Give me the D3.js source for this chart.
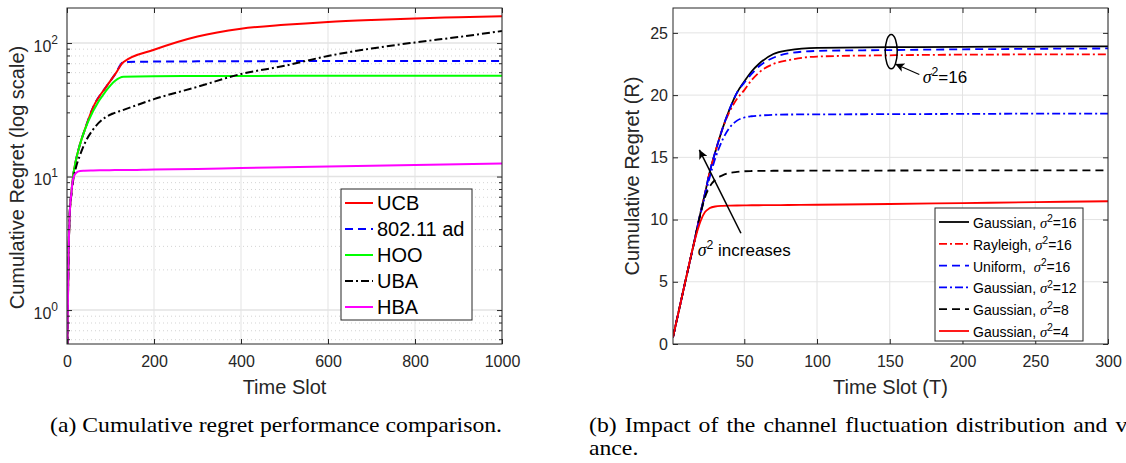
<!DOCTYPE html>
<html>
<head>
<meta charset="utf-8">
<script src="https://cdn.jsdelivr.net/npm/d3@7"></script>
<style>
  body { margin: 0; background: #fff; }
  svg text { font-family: "Liberation Sans", Arial, sans-serif; }
</style>
</head>
<body>
<svg id="fig" width="1126" height="463"></svg>
<script>
// ---- panel (a): cumulative regret, log scale ----
const tA = [1, 3, 6, 10, 14, 20, 30, 40, 60, 90, 110, 130, 200, 300, 400, 500, 600, 700, 800, 900, 1000];
const ucb = [0.55, 2, 5, 7.5, 10, 13, 17.5, 22, 33, 47, 58, 72, 89, 112, 128, 137, 144, 149, 153, 156, 159];
const ad  = [0.55, 2, 5, 7.5, 10, 13, 17.5, 22, 33, 47, 58, 72, 72.6, 72.9, 73.1, 73.2, 73.3, 73.4, 73.4, 73.5, 73.5];
const hoo = [0.55, 2, 5, 7.5, 10, 13, 17.5, 22, 31, 44, 52, 56, 56.5, 56.6, 56.7, 56.8, 56.8, 56.9, 56.9, 57, 57];
const uba = [0.55, 2, 5, 7.3, 9.3, 11.5, 14.5, 17.5, 22.5, 28, 30, 31.6, 38, 47, 58.6, 67.5, 80, 91, 101, 111, 123];
const hba = [0.55, 2, 5, 7.5, 9.6, 10.6, 11.0, 11.05, 11.1, 11.15, 11.2, 11.2, 11.3, 11.4, 11.6, 11.75, 11.9, 12.05, 12.2, 12.35, 12.5];
const xTicksA = [0, 200, 400, 600, 800, 1000];
const yTicksA = [1, 10, 100];

// ---- panel (b): channel fluctuation ----
const tB  = [1, 10, 15, 20, 23, 26, 30, 35, 40, 45, 50, 55, 60, 70, 80, 100, 150, 200, 250, 300];
const g16 = [0.55, 5.3, 7.9, 10.6, 12.1, 13.7, 15.4, 17.3, 18.9, 20.2, 21.1, 21.9, 22.5, 23.3, 23.6, 23.8, 23.85, 23.88, 23.9, 23.92];
const r16 = [0.55, 5.3, 7.9, 10.6, 12.1, 13.7, 15.4, 17.3, 18.7, 19.7, 20.4, 21.2, 21.8, 22.5, 22.8, 23.1, 23.2, 23.25, 23.27, 23.28];
const u16 = [0.55, 5.3, 7.9, 10.6, 12.1, 13.7, 15.4, 17.3, 18.9, 20.2, 21.0, 21.7, 22.3, 23.0, 23.35, 23.55, 23.62, 23.68, 23.72, 23.75];
const g12 = [0.55, 5.3, 7.9, 10.5, 11.9, 13.3, 14.9, 16.4, 17.4, 17.95, 18.2, 18.3, 18.35, 18.42, 18.44, 18.45, 18.47, 18.49, 18.51, 18.52];
const g8  = [0.55, 5.3, 7.9, 10.5, 11.8, 12.6, 13.2, 13.55, 13.75, 13.83, 13.88, 13.9, 13.91, 13.92, 13.92, 13.93, 13.94, 13.95, 13.95, 13.96];
const g4  = [0.55, 5.3, 7.9, 9.9, 10.6, 10.9, 11.05, 11.1, 11.12, 11.13, 11.14, 11.15, 11.15, 11.16, 11.17, 11.19, 11.25, 11.32, 11.4, 11.47];
const xTicksB = [50, 100, 150, 200, 250, 300];
const yTicksB = [0, 5, 10, 15, 20, 25];

const axisColor = "#262626";
const gridColor = "#e3e3e3";

const svg = d3.select("#fig");
svg.append("rect").attr("width", 1126).attr("height", 463).attr("fill", "#fff");

const defs = svg.append("defs");
defs.append("marker")
    .attr("id", "arrow")
    .attr("viewBox", "0 0 10 10")
    .attr("markerUnits", "userSpaceOnUse")
    .attr("markerWidth", 11)
    .attr("markerHeight", 9)
    .attr("refX", 10)
    .attr("refY", 5)
    .attr("orient", "auto")
    .append("path")
    .attr("d", "M0,0 L10,5 L0,10 L2.5,5 Z")
    .attr("fill", "#000");

function clipFor(id, box) {
    defs.append("clipPath").attr("id", id)
        .append("rect")
        .attr("x", box.left).attr("y", box.top)
        .attr("width", box.right - box.left)
        .attr("height", box.bottom - box.top);
}

// sigma^2 text helper
function sigmaText(sel, before, after, fs) {
    sel.append("tspan").text(before);
    sel.append("tspan").text("σ")
        .style("font-family", "'Liberation Serif', serif")
        .style("font-style", "italic")
        .style("font-size", (fs * 1.05) + "px");
    sel.append("tspan").text("2")
        .attr("dy", -fs * 0.42)
        .style("font-size", (fs * 0.72) + "px");
    sel.append("tspan").text(after)
        .attr("dy", fs * 0.42);
}

// ================= panel (a) =================
const boxA = {left: 67, right: 502, top: 8, bottom: 344};
const xA = d3.scaleLinear().domain([0, 1000]).range([boxA.left, boxA.right]);
const yA = d3.scaleLog().domain([0.557, 183]).range([boxA.bottom, boxA.top]);
clipFor("clipA", boxA);

const gA = svg.append("g");

let minorA = [];
[0.1, 1, 10, 100].forEach(d => {
    for (let k = 2; k <= 9; k++) {
        let v = d * k;
        if (v > 0.557 && v < 183) minorA.push(v);
    }
});

// grid
gA.selectAll(".minor").data(minorA).join("line")
    .attr("x1", boxA.left).attr("x2", boxA.right)
    .attr("y1", d => yA(d)).attr("y2", d => yA(d))
    .attr("stroke", "#c8c8c8").attr("stroke-width", 0.8)
    .attr("stroke-dasharray", "1,3");
gA.selectAll(".gy").data(yTicksA).join("line")
    .attr("x1", boxA.left).attr("x2", boxA.right)
    .attr("y1", d => yA(d)).attr("y2", d => yA(d))
    .attr("stroke", gridColor).attr("stroke-width", 1.5);
gA.selectAll(".gx").data(xTicksA).join("line")
    .attr("x1", d => xA(d)).attr("x2", d => xA(d))
    .attr("y1", boxA.top).attr("y2", boxA.bottom)
    .attr("stroke", gridColor).attr("stroke-width", 1);

const seriesA = [
    {name: "UCB", values: ucb, color: "#ff0000", dash: null},
    {name: "802.11 ad", values: ad, color: "#0000ff", dash: "8,5"},
    {name: "HOO", values: hoo, color: "#00ff00", dash: null},
    {name: "UBA", values: uba, color: "#000000", dash: "8,3,2,3"},
    {name: "HBA", values: hba, color: "#ff00ff", dash: null}
];

const lineA = d3.line()
    .x((d, i) => xA(tA[i]))
    .y(d => yA(d))
    .curve(d3.curveMonotoneX);

// draw order: put red over blue for the shared part like the original
const drawOrderA = [1, 0, 2, 3, 4];
drawOrderA.forEach(i => {
    const s = seriesA[i];
    gA.append("path")
        .datum(s.values)
        .attr("clip-path", "url(#clipA)")
        .attr("fill", "none")
        .attr("stroke", s.color)
        .attr("stroke-width", 2)
        .attr("stroke-dasharray", s.dash)
        .attr("d", lineA);
});

// axes
gA.append("g")
    .attr("transform", `translate(0,${boxA.bottom})`)
    .call(d3.axisBottom(xA).tickValues(xTicksA).tickSize(-5).tickPadding(12).tickFormat(d3.format("d")));
gA.append("g")
    .attr("transform", `translate(0,${boxA.top})`)
    .call(d3.axisTop(xA).tickValues(xTicksA).tickSize(-5).tickFormat(""));
const axLA = gA.append("g")
    .attr("transform", `translate(${boxA.left},0)`)
    .call(d3.axisLeft(yA).tickValues(yTicksA).tickSize(-5).tickPadding(9).tickFormat(""));
gA.append("g")
    .attr("transform", `translate(${boxA.right},0)`)
    .call(d3.axisRight(yA).tickValues(yTicksA).tickSize(-5).tickFormat(""));
// minor ticks
gA.selectAll(".mtl").data(minorA).join("line")
    .attr("x1", boxA.left).attr("x2", boxA.left + 3)
    .attr("y1", d => yA(d)).attr("y2", d => yA(d))
    .attr("stroke", axisColor);
gA.selectAll(".mtr").data(minorA).join("line")
    .attr("x1", boxA.right).attr("x2", boxA.right - 3)
    .attr("y1", d => yA(d)).attr("y2", d => yA(d))
    .attr("stroke", axisColor);

// y tick labels 10^n
axLA.selectAll(".tick text").each(function(d) {
    const t = d3.select(this).text(null).attr("dy", null).attr("y", 8);
    t.append("tspan").text("10");
    t.append("tspan").text(Math.round(Math.log10(d)))
        .attr("dy", -8).style("font-size", "12px");
});

// ================= panel (b) =================
const boxB = {left: 673, right: 1108, top: 8, bottom: 344};
const xB = d3.scaleLinear().domain([1, 300]).range([boxB.left, boxB.right]);
const yB = d3.scaleLinear().domain([0, 27]).range([boxB.bottom, boxB.top]);
clipFor("clipB", boxB);

const gB = svg.append("g");
gB.selectAll(".gy").data(yTicksB.slice(1)).join("line")
    .attr("x1", boxB.left).attr("x2", boxB.right)
    .attr("y1", d => yB(d)).attr("y2", d => yB(d))
    .attr("stroke", gridColor).attr("stroke-width", 1);
gB.selectAll(".gx").data(xTicksB).join("line")
    .attr("x1", d => xB(d)).attr("x2", d => xB(d))
    .attr("y1", boxB.top).attr("y2", boxB.bottom)
    .attr("stroke", gridColor).attr("stroke-width", 1);

const seriesB = [
    {pre: "Gaussian, ", post: "=16", values: g16, color: "#000000", dash: null},
    {pre: "Rayleigh, ", post: "=16", values: r16, color: "#ff0000", dash: "8,3,2,3"},
    {pre: "Uniform,  ", post: "=16", values: u16, color: "#0000ff", dash: "8,5"},
    {pre: "Gaussian, ", post: "=12", values: g12, color: "#0000ff", dash: "8,3,2,3"},
    {pre: "Gaussian, ", post: "=8", values: g8, color: "#000000", dash: "8,5"},
    {pre: "Gaussian, ", post: "=4", values: g4, color: "#ff0000", dash: null}
];

const lineB = d3.line()
    .x((d, i) => xB(tB[i]))
    .y(d => yB(d))
    .curve(d3.curveMonotoneX);

seriesB.forEach(s => {
    gB.append("path")
        .datum(s.values)
        .attr("clip-path", "url(#clipB)")
        .attr("fill", "none")
        .attr("stroke", s.color)
        .attr("stroke-width", 1.8)
        .attr("stroke-dasharray", s.dash)
        .attr("d", lineB);
});

gB.append("g")
    .attr("transform", `translate(0,${boxB.bottom})`)
    .call(d3.axisBottom(xB).tickValues(xTicksB).tickSize(-5).tickPadding(12));
gB.append("g")
    .attr("transform", `translate(0,${boxB.top})`)
    .call(d3.axisTop(xB).tickValues(xTicksB).tickSize(-5).tickFormat(""));
gB.append("g")
    .attr("transform", `translate(${boxB.left},0)`)
    .call(d3.axisLeft(yB).tickValues(yTicksB).tickSize(-5).tickPadding(5));
gB.append("g")
    .attr("transform", `translate(${boxB.right},0)`)
    .call(d3.axisRight(yB).tickValues(yTicksB).tickSize(-5).tickFormat(""));

// annotations in panel (b)
const ell = {t: 151, v: 23.5, dv: 1.38};
gB.append("ellipse")
    .attr("cx", xB(ell.t)).attr("cy", yB(ell.v))
    .attr("rx", 6).attr("ry", yB(ell.v - ell.dv) - yB(ell.v))
    .attr("fill", "none").attr("stroke", "#000").attr("stroke-width", 1.5);
gB.append("line")
    .attr("x1", xB(170.3)).attr("y1", yB(21.66))
    .attr("x2", xB(153.8)).attr("y2", yB(22.5))
    .attr("stroke", "#000").attr("stroke-width", 1.2)
    .attr("marker-end", "url(#arrow)");
gB.append("text")
    .attr("x", xB(172.6)).attr("y", yB(21.0))
    .style("font-size", "17px").attr("fill", "#000")
    .call(sigmaText, "", "=16", 17);

gB.append("line")
    .attr("x1", xB(47.7)).attr("y1", yB(8.9))
    .attr("x2", xB(19.1)).attr("y2", yB(15.6))
    .attr("stroke", "#000").attr("stroke-width", 1.5)
    .attr("marker-end", "url(#arrow)");
gB.append("text")
    .attr("x", xB(18)).attr("y", yB(7.1))
    .style("font-size", "17px").attr("fill", "#000")
    .call(sigmaText, "", " increases", 17);

// ---- common axis styling ----
svg.selectAll(".domain").remove();
svg.selectAll(".tick line").attr("stroke", axisColor);
svg.selectAll(".tick text")
    .attr("fill", axisColor)
    .style("font-size", "16px")
    .style("font-family", "'Liberation Sans', Arial, sans-serif");

[boxA, boxB].forEach(b => {
    svg.append("rect")
        .attr("x", b.left).attr("y", b.top)
        .attr("width", b.right - b.left).attr("height", b.bottom - b.top)
        .attr("fill", "none").attr("stroke", axisColor).attr("stroke-width", 1);
});

// axis titles
svg.append("text").attr("x", (boxA.left + boxA.right) / 2).attr("y", 394)
    .attr("text-anchor", "middle").style("font-size", "20px").attr("fill", axisColor)
    .text("Time Slot");
svg.append("text").attr("transform", "translate(24,177.5) rotate(-90)")
    .attr("text-anchor", "middle").style("font-size", "20px").attr("fill", axisColor)
    .text("Cumulative Regret (log scale)");
svg.append("text").attr("x", (boxB.left + boxB.right) / 2).attr("y", 394)
    .attr("text-anchor", "middle").style("font-size", "20px").attr("fill", axisColor)
    .text("Time Slot (T)");
svg.append("text").attr("transform", "translate(639,176) rotate(-90)")
    .attr("text-anchor", "middle").style("font-size", "20px").attr("fill", axisColor)
    .text("Cumulative Regret (R)");

// ---- legend (a) ----
const legA = svg.append("g");
legA.append("rect").attr("x", 341).attr("y", 189).attr("width", 131).attr("height", 131)
    .attr("fill", "#fff").attr("stroke", axisColor).attr("stroke-width", 1);
seriesA.forEach((s, i) => {
    const y = 203 + i * 26;
    legA.append("line").attr("x1", 345).attr("x2", 373).attr("y1", y).attr("y2", y)
        .attr("stroke", s.color).attr("stroke-width", 2).attr("stroke-dasharray", s.dash);
    legA.append("text").attr("x", 377).attr("y", y + 7)
        .style("font-size", "20px").attr("fill", "#000").text(s.name);
});

// ---- legend (b) ----
const legB = svg.append("g");
legB.append("rect").attr("x", 935).attr("y", 208).attr("width", 148).attr("height", 133)
    .attr("fill", "#fff").attr("stroke", axisColor).attr("stroke-width", 1);
seriesB.forEach((s, i) => {
    const y = 222 + i * 21.8;
    legB.append("line").attr("x1", 939).attr("x2", 969).attr("y1", y).attr("y2", y)
        .attr("stroke", s.color).attr("stroke-width", 1.8).attr("stroke-dasharray", s.dash);
    legB.append("text").attr("x", 973).attr("y", y + 6)
        .style("font-size", "14px").attr("fill", "#000")
        .style("white-space", "pre")
        .call(sigmaText, s.pre, s.post, 14);
});

// ---- captions ----
const capFont = "'Liberation Serif', 'Times New Roman', serif";
const capA = svg.append("text").attr("x", 50).attr("y", 432)
    .style("font-family", capFont)
    .style("font-size", "22px").attr("fill", "#000")
    .text("(a) Cumulative regret performance comparison.");
const wA = capA.node().getComputedTextLength();
capA.attr("textLength", 452).attr("lengthAdjust", "spacingAndGlyphs");
const sx = 452 / wA;

const capB = svg.append("text").attr("x", 589).attr("y", 432)
    .style("font-family", capFont)
    .style("font-size", "22px").attr("fill", "#000")
    .style("word-spacing", "2px")
    .text("(b) Impact of the channel fluctuation distribution and vari-");
capB.attr("textLength", capB.node().getComputedTextLength() * sx)
    .attr("lengthAdjust", "spacingAndGlyphs");
svg.append("text").attr("x", 589).attr("y", 455)
    .style("font-family", capFont)
    .style("font-size", "22px").attr("fill", "#000")
    .attr("transform", `translate(${589 - 589 * sx},0) scale(${sx},1)`)
    .text("ance.");
</script>
</body>
</html>
